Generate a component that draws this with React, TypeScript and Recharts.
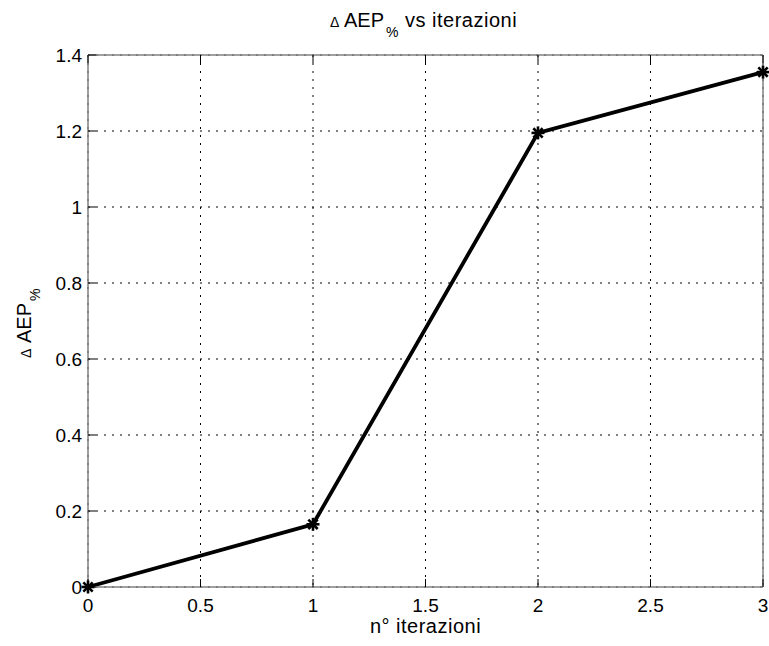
import React from "react";
import { LineChart, Line, XAxis, YAxis, CartesianGrid } from "recharts";

// Iteration index and the corresponding AEP % increment
const iterations = [0, 1, 2, 3];
const deltaAep = [0, 0.165, 1.195, 1.355];

const xTicks = [0, 0.5, 1, 1.5, 2, 2.5, 3];
const yTicks = [0, 0.2, 0.4, 0.6, 0.8, 1, 1.2, 1.4];

const data = iterations.map((it, i) => ({ it, v: deltaAep[i] }));

const W = 769;
const H = 646;
// plot box: x 88..763, y 55..587 (axes take 1px each)
const M = { top: 54, right: 5, bottom: 58, left: 87 };
const FONT = "'Liberation Sans', Arial, Helvetica, sans-serif";
const FS = 20;
const SUB = 14;
const TFS = 19;
const TICK = 8;

const fmt = (v: number) => String(Math.round(v * 10) / 10);

const BottomTick = (p: any) => (
  <g>
    <line x1={p.x} y1={p.y} x2={p.x} y2={p.y - TICK} stroke="#000" strokeWidth={1} />
    <text x={p.x} y={p.y + 25} textAnchor="middle" fontFamily={FONT} fontSize={TFS} fill="#000">
      {fmt(p.payload.value)}
    </text>
  </g>
);

const LeftTick = (p: any) => (
  <g>
    <line x1={p.x} y1={p.y} x2={p.x + TICK} y2={p.y} stroke="#000" strokeWidth={1} />
    <text x={p.x - 6} y={p.y + 7} textAnchor="end" fontFamily={FONT} fontSize={TFS} fill="#000">
      {fmt(p.payload.value)}
    </text>
  </g>
);

const TopTick = (p: any) => (
  <line x1={p.x} y1={p.y} x2={p.x} y2={p.y + TICK} stroke="#000" strokeWidth={1} />
);

const RightTick = (p: any) => (
  <line x1={p.x} y1={p.y} x2={p.x - TICK} y2={p.y} stroke="#000" strokeWidth={1} />
);

// Asterisk marker: a plus overlaid with a cross
const StarDot = (p: any) => {
  const { cx, cy } = p;
  if (cx == null || cy == null) return null;
  const r = 6.5;
  const d = r * 0.72;
  return (
    <g key={`dot-${p.index}`} stroke="#000" strokeWidth={2.6}>
      <line x1={cx - r} y1={cy} x2={cx + r} y2={cy} />
      <line x1={cx} y1={cy - r} x2={cx} y2={cy + r} />
      <line x1={cx - d} y1={cy - d} x2={cx + d} y2={cy + d} />
      <line x1={cx - d} y1={cy + d} x2={cx + d} y2={cy - d} />
    </g>
  );
};

const axisLine = { stroke: "#808080", strokeWidth: 1.5 };

export default function App() {
  const plotCx = 425.5;
  return (
    <div style={{ position: "absolute", left: 0, top: 0, width: W, height: H, background: "#fff" }}>
      <LineChart width={W} height={H} data={data} margin={M}>
        <CartesianGrid
          xAxisId="b"
          yAxisId="l"
          stroke="#000"
          strokeWidth={1}
          strokeDasharray="2 6"
          horizontalValues={yTicks}
          verticalValues={xTicks}
        />
        <XAxis
          xAxisId="b"
          dataKey="it"
          type="number"
          domain={[0, 3]}
          ticks={xTicks}
          height={1}
          tickSize={0}
          tickMargin={0}
          tickLine={false}
          axisLine={axisLine}
          tick={<BottomTick />}
          interval={0}
        />
        <XAxis
          xAxisId="t"
          orientation="top"
          dataKey="it"
          type="number"
          domain={[0, 3]}
          ticks={xTicks}
          height={1}
          tickSize={0}
          tickMargin={0}
          tickLine={false}
          axisLine={axisLine}
          tick={<TopTick />}
          interval={0}
        />
        <YAxis
          yAxisId="l"
          type="number"
          domain={[0, 1.4]}
          ticks={yTicks}
          width={1}
          tickSize={0}
          tickMargin={0}
          tickLine={false}
          axisLine={axisLine}
          tick={<LeftTick />}
          interval={0}
        />
        <YAxis
          yAxisId="r"
          orientation="right"
          type="number"
          domain={[0, 1.4]}
          ticks={yTicks}
          width={1}
          tickSize={0}
          tickMargin={0}
          tickLine={false}
          axisLine={axisLine}
          tick={<RightTick />}
          interval={0}
        />
        <Line
          xAxisId="b"
          yAxisId="l"
          dataKey="v"
          type="linear"
          stroke="#000"
          strokeWidth={3.8}
          dot={<StarDot />}
          activeDot={false}
          isAnimationActive={false}
        />
      </LineChart>
      <svg
        width={W}
        height={H}
        style={{ position: "absolute", left: 0, top: 0, pointerEvents: "none" }}
      >
        <g fontFamily={FONT} fontSize={FS} fill="#000">
          <text x={330} y={27} fontSize={SUB}>Δ</text>
          <text x={344} y={27}>AEP</text>
          <text x={386} y={37} fontSize={SUB}>%</text>
          <text x={405} y={27} letterSpacing={0.5}>vs iterazioni</text>
        </g>
        <text
          x={plotCx}
          y={633}
          textAnchor="middle"
          fontFamily={FONT}
          fontSize={FS}
          letterSpacing={0.5}
          fill="#000"
        >
          n° iterazioni
        </text>
        <g transform="translate(31, 0) rotate(-90)" fontFamily={FONT} fontSize={FS} fill="#000">
          <text x={-358} y={0} fontSize={SUB}>Δ</text>
          <text x={-343} y={0}>AEP</text>
          <text x={-301} y={9} fontSize={SUB}>%</text>
        </g>
      </svg>
    </div>
  );
}
